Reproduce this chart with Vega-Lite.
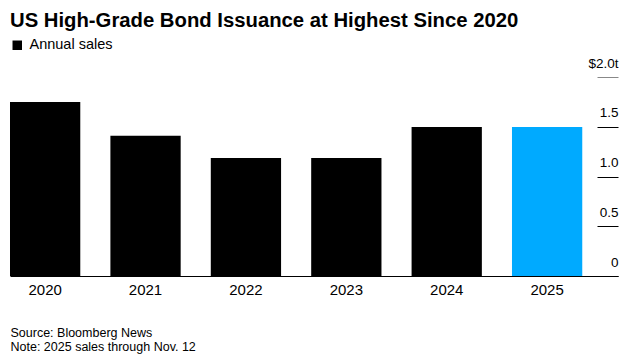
{
  "$schema": "https://vega.github.io/schema/vega-lite/v6.json",
  "width": 608,
  "height": 199,
  "autosize": {"type": "none"},
  "padding": {"left": 10, "top": 77, "right": 16, "bottom": 80},
  "background": "white",
  "title": {
    "text": "US High-Grade Bond Issuance at Highest Since 2020",
    "anchor": "start",
    "frame": "group",
    "font": "Liberation Sans",
    "fontSize": 20.3,
    "fontWeight": "bold",
    "color": "#000000",
    "offset": 7
  },
  "data": {
    "values": [
      {"year": "2020", "value": 1.75, "series": "Annual sales"},
      {"year": "2021", "value": 1.41, "series": "Annual sales"},
      {"year": "2022", "value": 1.185, "series": "Annual sales"},
      {"year": "2023", "value": 1.185, "series": "Annual sales"},
      {"year": "2024", "value": 1.497, "series": "Annual sales"},
      {"year": "2025", "value": 1.497, "series": "Annual sales"}
    ]
  },
  "mark": {"type": "bar"},
  "encoding": {
    "x": {
      "field": "year",
      "type": "ordinal",
      "scale": {"paddingInner": 0.3, "paddingOuter": 0.178, "align": 0},
      "axis": {
        "labelAngle": 0,
        "domain": true,
        "domainColor": "#000000",
        "domainWidth": 1,
        "ticks": false,
        "labelFont": "Liberation Sans",
        "labelFontSize": 15,
        "labelColor": "#000000",
        "labelPadding": 6,
        "title": ["Source: Bloomberg News", "Note: 2025 sales through Nov. 12"],
        "titleFont": "Liberation Sans",
        "titleFontSize": 12.5,
        "titleFontWeight": "normal",
        "titleColor": "#000000",
        "titleAnchor": "start",
        "titleAlign": "left",
        "titleBaseline": "alphabetic",
        "titleLineHeight": 14.5,
        "titleX": 0,
        "titleY": 60
      }
    },
    "y": {
      "field": "value",
      "type": "quantitative",
      "scale": {"domain": [0, 2], "nice": false},
      "axis": {
        "orient": "right",
        "offset": -21,
        "domain": false,
        "grid": false,
        "ticks": true,
        "tickSize": 21,
        "tickWidth": 1,
        "tickColor": {"condition": {"test": "datum.value == 2", "value": "#888888"}, "value": "#000000"},
        "values": [0, 0.5, 1, 1.5, 2],
        "labelExpr": "datum.value == 2 ? '$2.0t' : (datum.value == 0 ? '0' : format(datum.value, '.1f'))",
        "labelAlign": "right",
        "labelBaseline": "alphabetic",
        "labelPadding": 0,
        "labelOffset": -10,
        "labelFont": "Liberation Sans",
        "labelFontSize": 13.5,
        "labelColor": "#000000",
        "labelFlush": false,
        "labelOverlap": false,
        "title": null
      }
    },
    "color": {
      "field": "series",
      "type": "nominal",
      "scale": {"range": ["#000000"]},
      "condition": {"test": "datum.year === '2025'", "value": "#00aaff"},
      "legend": {
        "title": null,
        "orient": "none",
        "legendX": 0,
        "legendY": -39,
        "padding": 0,
        "symbolType": "square",
        "symbolSize": 90,
        "symbolStrokeWidth": 0,
        "labelFont": "Liberation Sans",
        "labelFontSize": 14.5,
        "labelColor": "#000000",
        "labelOffset": 5
      }
    }
  },
  "config": {
    "view": {"stroke": null}
  }
}
